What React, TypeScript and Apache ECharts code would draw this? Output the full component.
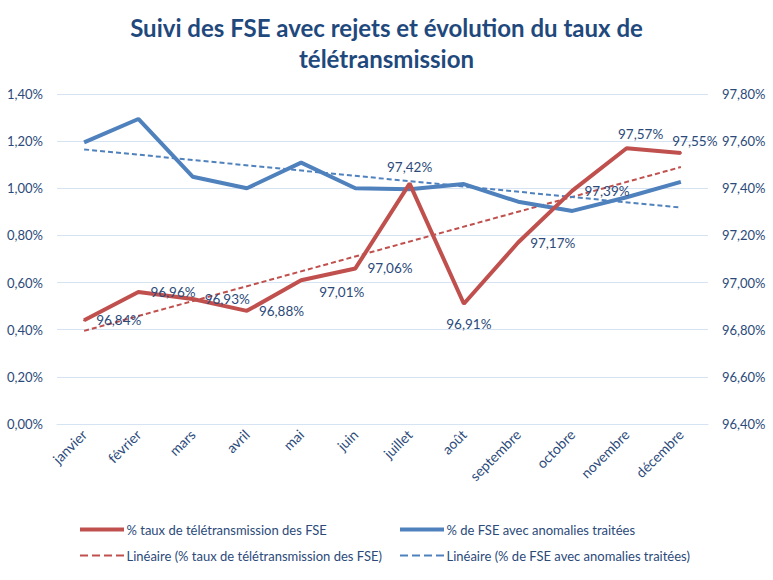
import React, { useEffect, useRef } from "react";
import * as echarts from "echarts";

const months = ["janvier", "février", "mars", "avril", "mai", "juin", "juillet", "août", "septembre", "octobre", "novembre", "décembre"];
const tauxTeletrans = [96.84, 96.96, 96.93, 96.88, 97.01, 97.06, 97.42, 96.91, 97.17, 97.39, 97.57, 97.55];
const anomaliesTraitees = [1.195, 1.294, 1.049, 1.0, 1.109, 1.0, 0.996, 1.018, 0.943, 0.904, 0.962, 1.027];
const trendTauxEnds = [96.795, 97.49];
const trendAnomEnds = [1.165, 0.918];

const nameRed = "% taux de télétransmission des FSE";
const nameBlue = "% de FSE avec anomalies traitées";
const nameRedLin = "Linéaire (% taux de télétransmission des FSE)";
const nameBlueLin = "Linéaire (% de FSE avec anomalies traitées)";

const RED = "#C0504D";
const BLUE = "#4F81BD";
const TXT = "#2B4A7A";
const FONT = "Lato, 'Liberation Sans', sans-serif";

const SOLID_ICON = "path://M0 0h44v4H0z";
const DASH_ICON = "path://M0 0h8v2H0z M12 0h8v2h-8z M24 0h8v2h-8z M36 0h8v2h-8z";

const fmt = (v: number) => v.toFixed(2).replace(".", ",") + "%";

// label placement per point (style only)
const labelPlace: any[] = [
  { position: "right", distance: 11 },
  { position: "right", distance: 11 },
  { position: "right", distance: 11 },
  { position: "right", distance: 11 },
  { position: "right", distance: 11, offset: [6, 12] },
  { position: "right", distance: 11 },
  { position: "top", distance: 9 },
  { position: "bottom", distance: 12, offset: [5, 0] },
  { position: "right", distance: 11 },
  { position: "right", distance: 11 },
  { position: "top", distance: 6, offset: [14, 0] },
  { position: "top", distance: 4, offset: [14, 0] },
];

export default function App() {
  const ref = useRef<HTMLDivElement>(null);
  useEffect(() => {
    document.body.style.margin = "0";
    const chart = echarts.init(ref.current!, null, { renderer: "svg" });
    const legendBase = {
      itemWidth: 45,
      textStyle: { fontFamily: FONT, fontSize: 13, color: TXT, padding: [0, 0, 0, -3] },
      selectedMode: false,
    };
    chart.setOption({
      animation: false,
      backgroundColor: "#ffffff",
      title: {
        text: "Suivi des FSE avec rejets et évolution du taux de\ntélétransmission",
        left: "center",
        top: 7,
        textStyle: { fontFamily: FONT, fontSize: 24, fontWeight: "bold", color: "#1F497D", lineHeight: 31, align: "center" },
      },
      legend: [
        { ...legendBase, itemHeight: 4, data: [{ name: nameRed, icon: SOLID_ICON }], left: 75, top: 518 },
        { ...legendBase, itemHeight: 4, data: [{ name: nameBlue, icon: SOLID_ICON }], left: 395, top: 518 },
        { ...legendBase, itemHeight: 2, data: [{ name: nameRedLin, icon: DASH_ICON }], left: 75, top: 544 },
        { ...legendBase, itemHeight: 2, data: [{ name: nameBlueLin, icon: DASH_ICON }], left: 395, top: 544 },
      ],
      grid: { left: 57, right: 65, top: 94, bottom: 156, containLabel: false },
      xAxis: {
        type: "category",
        data: months,
        boundaryGap: true,
        axisLine: { show: true, lineStyle: { color: "#D6E3F3" } },
        axisTick: { show: false },
        axisLabel: { rotate: 45, color: TXT, fontFamily: FONT, fontSize: 14, margin: 8, interval: 0 },
      },
      yAxis: [
        {
          type: "value",
          min: 0,
          max: 1.4,
          interval: 0.2,
          axisLine: { show: false },
          axisTick: { show: false },
          splitLine: { lineStyle: { color: "#D6E3F3", width: 1 } },
          axisLabel: { color: TXT, fontFamily: FONT, fontSize: 13, margin: 14, formatter: (v: number) => fmt(v) },
        },
        {
          type: "value",
          min: 96.4,
          max: 97.8,
          interval: 0.2,
          axisLine: { show: false },
          axisTick: { show: false },
          splitLine: { show: false },
          axisLabel: { color: TXT, fontFamily: FONT, fontSize: 13, margin: 14, formatter: (v: number) => fmt(v) },
        },
      ],
      series: [
        {
          name: nameRedLin,
          type: "line",
          yAxisIndex: 1,
          data: [[months[0], trendTauxEnds[0]], [months[11], trendTauxEnds[1]]],
          symbol: "none",
          lineStyle: { color: RED, width: 2, type: [5, 3] },
          itemStyle: { color: RED },
          z: 2,
        },
        {
          name: nameBlueLin,
          type: "line",
          yAxisIndex: 0,
          data: [[months[0], trendAnomEnds[0]], [months[11], trendAnomEnds[1]]],
          symbol: "none",
          lineStyle: { color: BLUE, width: 2, type: [5, 3] },
          itemStyle: { color: BLUE },
          z: 2,
        },
        {
          name: nameBlue,
          type: "line",
          yAxisIndex: 0,
          data: anomaliesTraitees,
          symbol: "none",
          lineStyle: { color: BLUE, width: 4 },
          itemStyle: { color: BLUE },
          z: 3,
        },
        {
          name: nameRed,
          type: "line",
          yAxisIndex: 1,
          data: tauxTeletrans.map((v, i) => ({ value: v, label: labelPlace[i] })),
          symbol: "circle",
          symbolSize: 2,
          showSymbol: true,
          lineStyle: { color: RED, width: 4 },
          itemStyle: { color: RED },
          label: {
            show: true,
            color: TXT,
            fontFamily: FONT,
            fontSize: 13.5,
            formatter: (p: any) => fmt(p.value),
          },
          z: 4,
        },
      ],
    });
    return () => chart.dispose();
  }, []);
  return <div ref={ref} style={{ width: 773, height: 580 }} />;
}
